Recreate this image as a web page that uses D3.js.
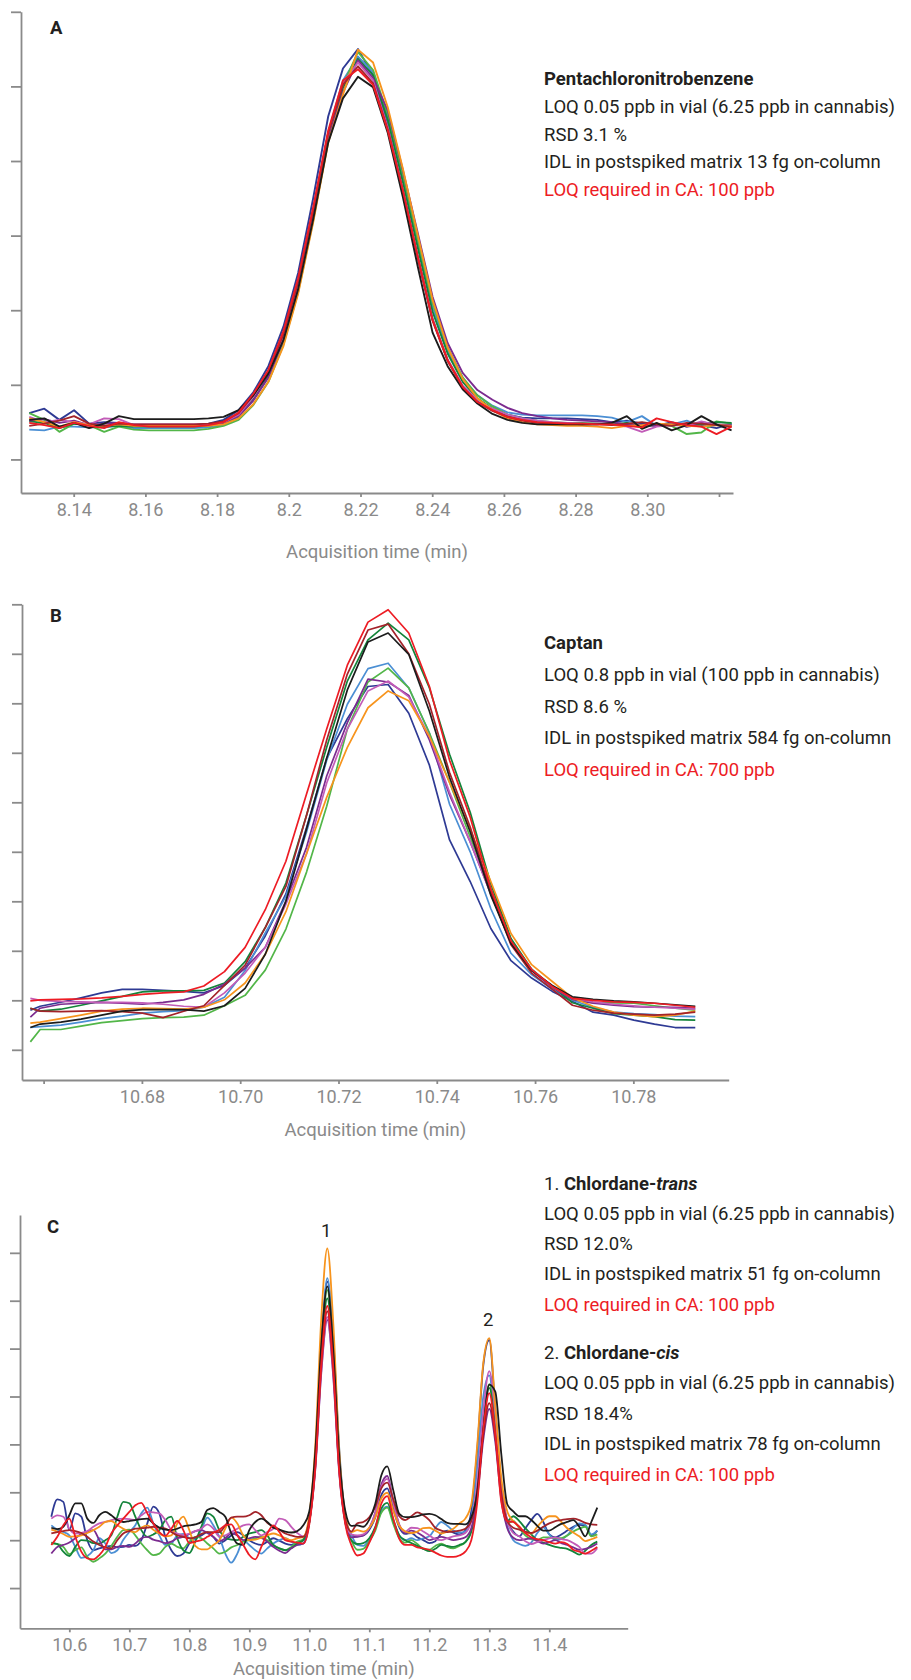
<!DOCTYPE html>
<html>
<head>
<meta charset="utf-8">
<script src="https://cdn.jsdelivr.net/npm/d3@7"></script>
<style>
  body { margin: 0; background: #fff; }
  svg { display: block; font-family: Roboto, "Noto Sans", sans-serif; }
</style>
</head>
<body>
<svg width="911" height="1680"></svg>
<script>
// ten replicate injections, same colour order in every panel
const runColors = ["#2e3a94", "#4b8fd4", "#52b648", "#13843a", "#7b2b8f",
  "#c25cb8", "#f7941d", "#a3232a", "#1c1c1c", "#ed1c24"];

// ---- A: Pentachloronitrobenzene ----
const timesA = [8.1276, 8.1318, 8.1360, 8.1401, 8.1443, 8.1485, 8.1526, 8.1568, 8.1610, 8.1651,
  8.1693, 8.1735, 8.1776, 8.1818, 8.1860, 8.1901, 8.1943, 8.1985, 8.2026, 8.2068,
  8.2110, 8.2151, 8.2193, 8.2235, 8.2276, 8.2318, 8.2360, 8.2401, 8.2443, 8.2485,
  8.2526, 8.2568, 8.2610, 8.2651, 8.2693, 8.2735, 8.2776, 8.2818, 8.2860, 8.2901,
  8.2943, 8.2985, 8.3026, 8.3068, 8.3110, 8.3151, 8.3193, 8.3235];
const runsA = [
  [62,68,53,66,48,50,49, 46,46,46,46,46, 48,53,66,90,125,178,250,350,460,524,550,515,448,362,270,188,133,98,78,67,60,56,55, 55,55,54,53, 50,52,48,45,50,44,46,42,48],
  [40,39,44,44,43,43,45, 42,42,42,42,42, 43,46,57,80,112,162,232,330,438,508,540,519,458,377,288,204,146,108,86,72,63,60,59, 59,59,59,58, 56,50,58,45,47,52,44,46,47],
  [62,53,37,48,46,37,44, 40,39,39,39,39, 41,45,53,73,104,154,224,320,428,502,546,522,462,382,294,210,150,110,86,71,60,55,52, 50,49,49,48, 48,46,44,47,45,34,36,51,48],
  [51,49,42,48,47,44,45, 44,44,44,44,44, 45,48,58,80,112,162,232,328,434,498,537,515,455,372,283,198,142,104,82,68,58,53,50, 49,48,48,48, 47,49,44,46,48,45,47,50,49],
  [52,54,49,52,46,48,49, 47,47,47,47,47, 47,49,58,79,110,160,230,325,430,492,535,511,468,388,303,218,156,116,93,80,69,62,58, 55,53,52,51, 50,47,46,45,48,44,50,47,46],
  [57,50,53,50,47,55,54, 46,46,46,46,46, 47,50,60,84,116,166,236,332,438,505,532,508,445,362,272,188,134,99,80,68,60,55,52, 50,49,48,48, 47,44,37,44,46,45,51,46,45],
  [55,50,44,50,46,45,47, 45,45,45,45,45, 45,47,55,74,104,152,222,318,425,489,549,532,472,390,300,214,150,108,82,66,55,50,47, 46,45,45,44, 42,45,46,48,47,45,44,46,45],
  [45,48,52,58,48,45,48, 47,47,47,47,47, 48,51,62,86,118,168,238,334,438,502,527,504,442,360,270,186,132,97,77,65,57,52,49, 48,48,47,47, 46,48,50,47,45,49,48,46,44],
  [53,55,44,49,42,48,58, 54,54,54,54,54, 55,57,66,86,115,160,228,322,425,484,513,499,438,352,258,170,125,94,75,61,53,49,47, 47,47,47,47, 49,58,41,49,39,46,58,47,39],
  [49,46,42,49,45,42,50, 46,44,44,44,44, 46,50,63,88,120,172,243,338,441,508,523,502,441,361,271,187,133,97,77,66,57,53,50, 49,48,48,47, 47,45,43,55,50,46,44,34,44]
];
const xTicksA = [8.14, 8.16, 8.18, 8.2, 8.22, 8.24, 8.26, 8.28, 8.30, 8.32];
const xLabelsA = ["8.14", "8.16", "8.18", "8.2", "8.22", "8.24", "8.26", "8.28", "8.30", ""];
const yTicksA = [0, 100, 200, 300, 400, 500, 600];
const headA = ["", "Pentachloronitrobenzene", ""];
const notesA = ["LOQ 0.05 ppb in vial (6.25 ppb in cannabis)", "RSD 3.1 %",
  "IDL in postspiked matrix 13 fg on-column", "LOQ required in CA: 100 ppb"];

// ---- B: Captan ----
const timesB = [10.6573, 10.6593, 10.6635, 10.6676, 10.6718, 10.6760, 10.6801, 10.6843, 10.6885, 10.6926,
  10.6968, 10.7010, 10.7051, 10.7093, 10.7135, 10.7176, 10.7218, 10.7260, 10.7301, 10.7343,
  10.7385, 10.7426, 10.7468, 10.7510, 10.7551, 10.7593, 10.7635, 10.7676, 10.7718, 10.7760,
  10.7801, 10.7843, 10.7885, 10.7926];
const runsB = [
  [80, 88,96,105,115,122,122,120,118,115, 130,165,230,315,449,589,669,734,738,680,575,424,340,245,180,145,118,98,76,70,60,52,45,45],
  [45, 47,50,56,63,68,74,77,79,86, 106,160,236,310,440,585,698,770,781,731,640,496,400,285,195,152,122,100,86,76,73,71,68,67],
  [16, 41,41,48,55,59,63,65,66,70, 89,110,161,244,359,492,648,743,771,731,640,540,430,325,222,162,126,102,95,95,94,89,84,80],
  [84, 78,82,90,99,108,117,119,119,120, 135,178,247,337,474,611,745,828,862,828,731,597,480,335,225,163,128,95,84,73,70,67,61,60],
  [66, 84,92,94,96,94,92,96,101,112, 133,165,207,301,409,553,661,749,743,716,626,515,420,315,218,160,126,102,94,90,87,86,86,84],
  [104, 100,98,97,96,96,95,92,88,86, 115,155,207,294,396,539,648,725,745,713,633,520,420,315,218,162,128,104,97,92,89,86,84,82],
  [54, 56,63,70,78,82,84,83,82,86, 101,135,193,279,396,510,611,691,725,705,633,540,445,340,235,172,138,105,88,76,70,67,70,78],
  [84, 78,77,78,79,77,74,65,78,89, 130,171,247,330,474,626,759,848,860,800,698,560,450,318,212,155,122,90,80,74,72,70,72,76],
  [45, 52,56,62,70,78,81,81,81,78, 89,124,193,300,446,589,727,824,842,799,684,550,440,312,215,160,130,107,102,99,97,94,91,88],
  [99, 101,102,103,105,108,112,115,117,129, 158,207,283,381,517,648,777,864,889,842,734,585,470,325,220,162,128,104,100,97,96,94,90,86]
];
const xTicksB = [10.66, 10.68, 10.70, 10.72, 10.74, 10.76, 10.78];
const xLabelsB = ["", "10.68", "10.70", "10.72", "10.74", "10.76", "10.78"];
const yTicksB = [0, 100, 200, 300, 400, 500, 600, 700, 800, 900];
const headB = ["", "Captan", ""];
const notesB = ["LOQ 0.8 ppb in vial (100 ppb in cannabis)", "RSD 8.6 %",
  "IDL in postspiked matrix 584 fg on-column", "LOQ required in CA: 700 ppb"];

// ---- C: Chlordane-trans / Chlordane-cis ----
const timesC = [10.57, 10.58, 10.59, 10.60, 10.61, 10.62, 10.63, 10.64, 10.65, 10.66,
  10.67, 10.68, 10.69, 10.70, 10.71, 10.72, 10.73, 10.74, 10.75, 10.76,
  10.77, 10.78, 10.79, 10.80, 10.81, 10.82, 10.83, 10.84, 10.85, 10.86,
  10.87, 10.88, 10.89, 10.90, 10.91, 10.92, 10.93, 10.94, 10.95, 10.96,
  10.97, 10.98, 10.99, 11.00, 11.01, 11.02, 11.03, 11.04, 11.05, 11.06,
  11.07, 11.08, 11.09, 11.10, 11.11, 11.12, 11.13, 11.14, 11.15, 11.16,
  11.17, 11.18, 11.19, 11.20, 11.21, 11.22, 11.23, 11.24, 11.25, 11.26,
  11.27, 11.28, 11.29, 11.30, 11.31, 11.32, 11.33, 11.34, 11.35, 11.36,
  11.37, 11.38, 11.39, 11.40, 11.41, 11.42, 11.43, 11.44, 11.45, 11.46,
  11.47, 11.48];
const runsC = [
  [149,185,180,121,156,149,100,79,83,86,88,85,86,90,88,100,135,170,156,107,79,67,72,93,104,110,117,107,93,100,110,117,110,100,93,90,97,104,99,93,90,95,100,
   140,270,500,640,515,280,145,110, 108,110, 122,148,194,208,165,127,113, 115,106,100,94,98,114,120,116,112,
   120,160,290,465,518,370,215,140,118, 108,125,142,155,138,112,106,112,120,128,132,130,110,120],
  [131,122,117,110,86,63,67,79,104,93,73,79,101,117,131,156,168,135,110,90,93,110,113,104,101,121,147,131,107,72,53,72,99,90,79,72,83,93,100,104,97,90,93,
   138,268,500,647,520,290,150,112, 90,88, 102,125,160,170,140,110,100, 104,100,104,108,125,138,130,120,116,
   118,145,255,400,444,320,195,130,100, 92,88,95,115,127,112,100,102,110,125,135,132,112,120],
  [93,92,86,71,79,85,65,55,62,72,88,107,121,122,110,93,79,69,72,86,93,86,83,97,107,104,93,83,72,76,85,90,97,100,104,107,100,90,83,79,86,97,102,
   138,265,497,622,486,257,140,100, 80,82, 98,120,157,168,134,104,95, 100,92,82,80,88,93,86,83,88,
   96,120,200,345,426,340,192,135,140, 125,110,102,100,106,106,104,104,110,118,124,128,108,112],
  [95,92,76,67,86,100,99,94,93,100,110,149,180,177,149,121,107,112,121,142,149,104,79,73,97,128,156,149,121,105,101,100,107,114,117,121,110,90,83,79,83,93,100,
   138,262,484,605,474,252,140,100, 92,94, 104,128,166,178,142,110,100, 94,88,82,77,82,90,88,86,90,
   96,118,195,340,418,335,195,140,150, 140,125,112,100,95,90,86,84,82,76,70,78,90,97],
  [72,86,90,95,104,113,117,121,100,81,81,86,88,86,93,104,107,101,98,94,97,104,107,113,119,121,115,107,98,104,115,110,100,104,107,105,97,86,78,73,83,90,93,
   137,247,450,560,440,238,137,106, 107,110, 125,158,216,234,180,132,115, 120,116,108,100,104,107,104,100,102,
   106,125,190,310,374,305,185,125,105, 100,102,104,98,93,96,100,94,90,85,80,82,86,93],
  [145,152,149,124,114,115,119,128,135,138,142,144,145,144,142,152,159,158,156,142,121,114,110,114,119,124,133,124,108,110,117,124,131,133,121,110,117,124,145,142,128,115,108,
   142,252,455,566,446,243,142,112, 110,112, 126,157,211,228,178,132,118, 126,125,118,110,102,100,104,108,110,
   115,140,220,370,453,365,215,140,115, 108,98,92,96,100,104,106,102,100,94,86,72,72,83],
  [122,118,113,107,108,110,115,121,128,138,140,131,124,119,117,126,131,122,114,108,110,135,149,121,88,81,81,90,100,124,147,135,110,100,101,105,110,114,110,104,100,104,107,
   153,298,564,709,552,286,153,117, 121,118, 126,148,187,199,162,130,118, 115,118,125,126,120,114,118,124,135,
   145,175,300,470,522,380,230,160,140, 128,116,114,128,142,150,150,138,125,116,108,98,102,107],
  [114,117,119,121,119,115,107,97,90,85,83,100,114,119,124,125,126,128,126,124,117,110,107,104,106,113,117,117,117,131,147,149,149,152,159,152,136,129,122,114,110,107,107,
   143,256,464,578,455,247,143,118, 135,138, 148,170,208,220,185,150,142, 150,158,152,142,126,120,117,118,120,
   124,140,204,322,386,316,198,140,126, 122,118,115,120,128,135,140,142,144,145,142,136,133,132],
  [126,123,128,152,177,177,145,136,152,159,152,142,138,140,142,144,145,135,126,122,121,124,129,131,133,138,163,167,159,149,114,93,90,121,138,145,138,126,122,118,116,119,131,
   160,285,508,630,497,273,161,130, 131,128, 143,176,235,254,204,155,148, 148,150,154,155,152,144,136,134,134,
   133,148,200,330,425,410,280,175,160, 150,150,142,130,120,120,127,134,138,142,128,108,138,168],
  [90,107,131,145,107,76,62,60,69,86,114,131,145,159,173,178,156,135,117,109,124,140,121,94,97,100,107,115,122,131,133,110,90,69,60,86,114,131,117,100,97,95,93,
   133,253,470,589,460,243,133,90, 68,72, 95,125,176,192,145,103,90, 90,85,83,80,74,68,65,65,68,
   76,100,180,330,407,322,180,140,138, 128,115,106,102,100,96,93,96,92,80,76,72,78,86]
];
const xTicksC = [10.6, 10.7, 10.8, 10.9, 11.0, 11.1, 11.2, 11.3, 11.4];
const xLabelsC = ["10.6", "10.7", "10.8", "10.9", "11.0", "11.1", "11.2", "11.3", "11.4"];
const yTicksC = [0, 100, 200, 300, 400, 500, 600, 700];
const peakLabelsC = ["1", "2"];
const peakTimesC = [11.03, 11.30];
const headC1 = ["1. ", "Chlordane-", "trans"];
const notesC1 = ["LOQ 0.05 ppb in vial (6.25 ppb in cannabis)", "RSD 12.0%",
  "IDL in postspiked matrix 51 fg on-column", "LOQ required in CA: 100 ppb"];
const headC2 = ["2. ", "Chlordane-", "cis"];
const notesC2 = ["LOQ 0.05 ppb in vial (6.25 ppb in cannabis)", "RSD 18.4%",
  "IDL in postspiked matrix 78 fg on-column", "LOQ required in CA: 100 ppb"];

const ink = "#231f20";
const axisGrey = "#8a8a8a";
const alertRed = "#ed1c24";

const svg = d3.select("svg");

const panels = [
  { letter: "A", letterPos: [50, 34], times: timesA, runs: runsA, curve: d3.curveLinear, lineWidth: 1.9,
    xDomain: [8.1253, 8.3239], xRange: [21, 733], yDomain: [-45, 600], yRange: [493, 11.8],
    xTicks: xTicksA, xLabels: xLabelsA, yTicks: yTicksA, titleY: 558 },
  { letter: "B", letterPos: [50, 622], times: timesB, runs: runsB, curve: d3.curveLinear, lineWidth: 1.7,
    xDomain: [10.6556, 10.7994], xRange: [22, 728.7], yDomain: [-61, 900], yRange: [1080, 604.3],
    xTicks: xTicksB, xLabels: xLabelsB, yTicks: yTicksB, titleY: 1136 },
  { letter: "C", letterPos: [47, 1233], times: timesC, runs: runsC, curve: d3.curveMonotoneX, lineWidth: 1.8,
    xDomain: [10.5178, 11.5307], xRange: [20, 627.7], yDomain: [-84, 779], yRange: [1628.3, 1215],
    xTicks: xTicksC, xLabels: xLabelsC, yTicks: yTicksC, titleY: 1675 }
];

const drawPanel = (p) => {
  const x = d3.scaleLinear().domain(p.xDomain).range(p.xRange);
  const y = d3.scaleLinear().domain(p.yDomain).range(p.yRange);
  const g = svg.append("g");

  const line = d3.line()
    .curve(p.curve)
    .x((d, i) => x(p.times[i]))
    .y((d) => y(d));

  g.selectAll("path.run")
    .data(p.runs)
    .enter()
    .append("path")
    .attr("class", "run")
    .attr("d", line)
    .attr("fill", "none")
    .attr("stroke", (d, i) => runColors[i])
    .attr("stroke-width", p.lineWidth)
    .attr("stroke-linejoin", "round");

  const xAxis = g.append("g")
    .attr("transform", `translate(0,${p.yRange[0]})`)
    .call(d3.axisBottom(x).tickValues(p.xTicks).tickFormat((d, i) => p.xLabels[i])
      .tickSizeInner(4).tickSizeOuter(0).tickPadding(6));
  const yAxis = g.append("g")
    .attr("transform", `translate(${p.xRange[0]},0)`)
    .call(d3.axisLeft(y).tickValues(p.yTicks).tickFormat("")
      .tickSizeInner(10).tickSizeOuter(0));

  [xAxis, yAxis].forEach((a) => {
    a.attr("font-family", null).attr("font-size", 18);
    a.selectAll(".domain, .tick line").attr("stroke", axisGrey).attr("stroke-width", 1.8);
    a.selectAll(".tick text").attr("fill", axisGrey);
  });

  g.append("text")
    .attr("x", (p.xRange[0] + p.xRange[1]) / 2)
    .attr("y", p.titleY)
    .attr("text-anchor", "middle")
    .attr("font-size", 18.5)
    .attr("fill", axisGrey)
    .text("Acquisition time (min)");

  g.append("text")
    .attr("x", p.letterPos[0])
    .attr("y", p.letterPos[1])
    .attr("font-size", 18.5)
    .attr("font-weight", 700)
    .attr("fill", ink)
    .text(p.letter);

  return { x, y };
};

const writeBlock = (head, notes, x0, y0, step) => {
  const t = svg.append("text").attr("x", x0).attr("y", y0)
    .attr("font-size", 18.5).attr("fill", ink);
  t.append("tspan").text(head[0]);
  t.append("tspan").attr("font-weight", 700).text(head[1]);
  t.append("tspan").attr("font-weight", 700).attr("font-style", "italic").text(head[2]);
  notes.forEach((s, i) => {
    svg.append("text")
      .attr("x", x0)
      .attr("y", y0 + step * (i + 1))
      .attr("font-size", 18.5)
      .attr("fill", i === notes.length - 1 ? alertRed : ink)
      .text(s);
  });
};

const scales = panels.map(drawPanel);

// peak numbers over the two chlordane peaks
const sc = scales[2];
peakTimesC.forEach((t, k) => {
  const idx = timesC.indexOf(t);
  const top = d3.max(runsC, (r) => r[idx]);
  svg.append("text")
    .attr("x", sc.x(t) - 1)
    .attr("y", sc.y(top) - 12)
    .attr("text-anchor", "middle")
    .attr("font-size", 18.5)
    .attr("fill", ink)
    .text(peakLabelsC[k]);
});

writeBlock(headA, notesA, 544, 85, 27.8);
writeBlock(headB, notesB, 544, 649, 31.8);
writeBlock(headC1, notesC1, 544, 1189.5, 30.3);
writeBlock(headC2, notesC2, 544, 1359, 30.4);
</script>
</body>
</html>
